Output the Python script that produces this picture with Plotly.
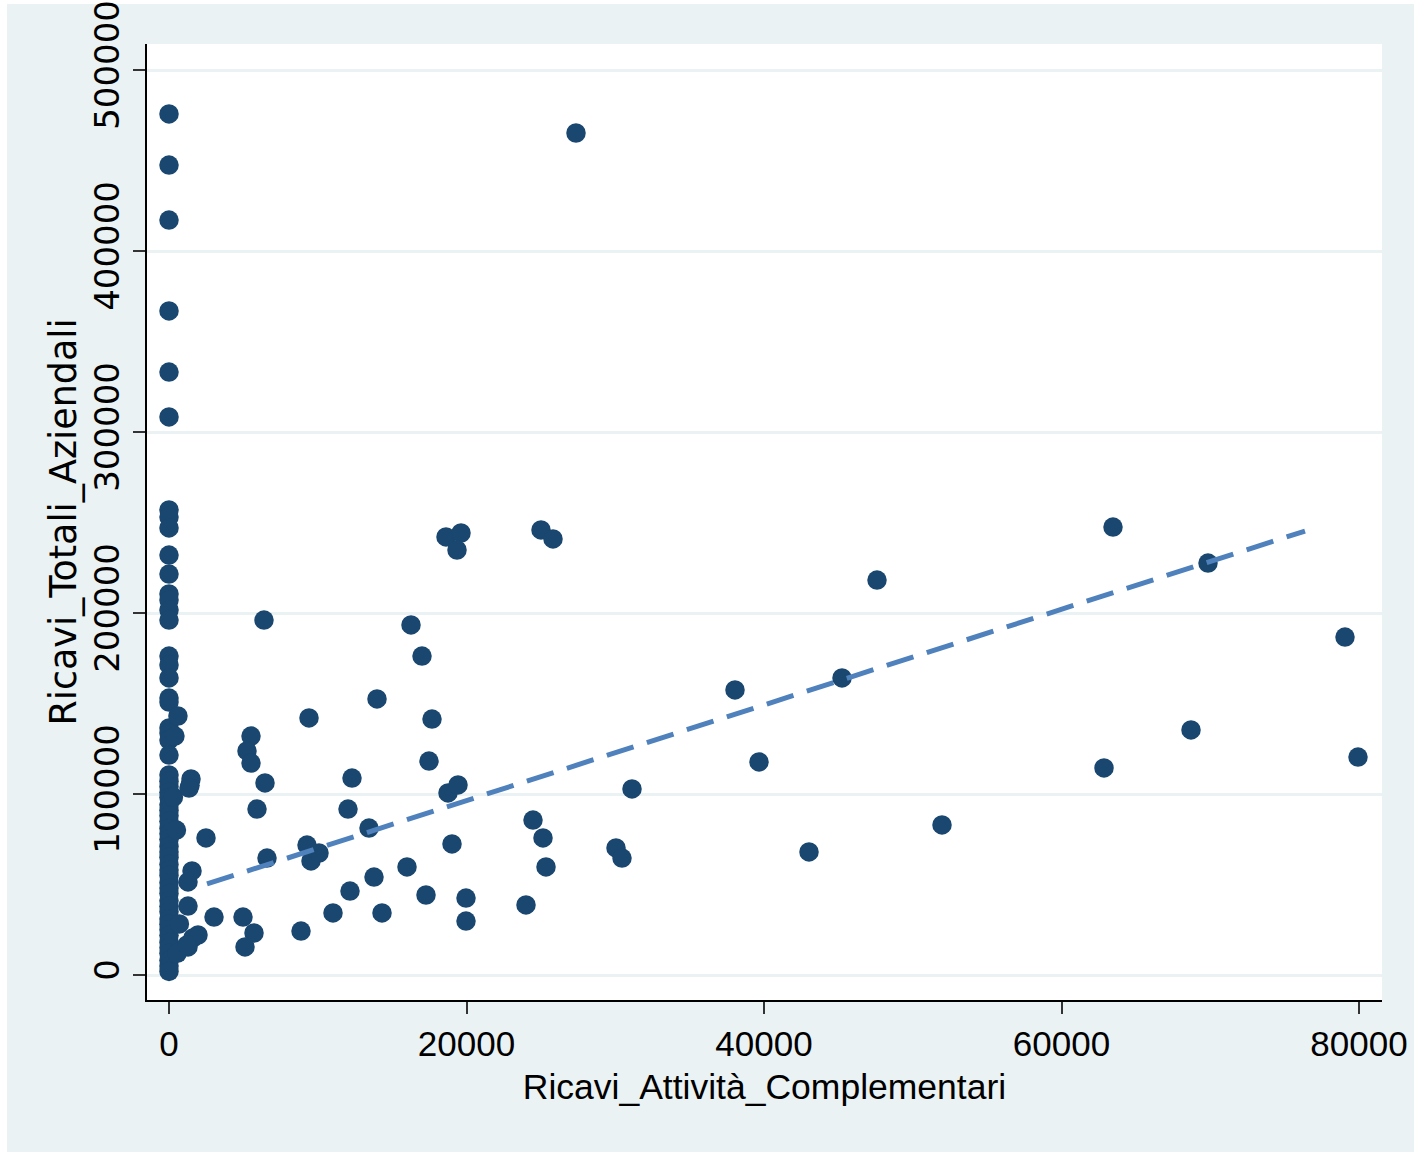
import plotly.graph_objects as go

# Scatter data: Ricavi_Attività_Complementari (x) vs Ricavi_Totali_Aziendali (y)
zero_col_y = [475700, 447500, 417100, 366900, 333100, 308300, 256900, 253000, 247000,
              232000, 221500, 210500, 207200, 201700, 196100, 176200, 171300, 164100,
              153000, 150800, 136500, 133700, 129800, 121500, 110500,
              107000, 104000, 101000, 98000, 94000, 91000, 88000, 85000, 81000, 78000,
              75000, 71000, 68000, 65000, 61000, 58000, 55000, 51000, 48000, 45000,
              41000, 38000, 35000, 31000, 28000, 25000, 22000, 18000, 15000, 12000,
              8000, 5000, 2000]
zero_col_x = [0] * len(zero_col_y)

other_x = [400, 600, 300, 500, 700, 1950, 1600, 1277, 550, 1412,
           27361, 6387, 5513, 5244, 5513, 6454, 5916, 6588, 1479, 1345,
           2487, 1546, 1277, 1277, 3025, 4975, 5714, 5109, 1210, 8874,
           9412, 9277, 9546, 10084, 11025, 12034, 12303, 12168, 13445, 13782,
           13983, 14319, 16000, 16269, 17008, 17277, 17479, 17681, 18622, 19630,
           19361, 18756, 19429, 19025, 19966, 19966, 24000, 24471, 25008, 25815,
           25143, 25345, 30050, 30454, 31126, 38050, 39664, 43025, 45244, 47597,
           51966, 62857, 63462, 68706, 69849, 79059, 79933]
other_y = [132000, 143100, 98300, 80100, 28200, 22100, 20400, 15500, 12000, 104900,
           465200, 196100, 132000, 123800, 117100, 106100, 91700, 64600, 108300, 103300,
           75700, 57500, 51400, 38100, 32000, 32000, 23200, 15500, 16600, 24300,
           142000, 71800, 63000, 67400, 34300, 91700, 108800, 46400, 81200, 54100,
           152500, 34300, 59700, 193400, 176200, 44200, 118200, 141400, 242000, 244200,
           234800, 100600, 105000, 72400, 42500, 29800, 38700, 85600, 245900, 240900,
           75700, 59700, 70200, 64600, 102800, 157500, 117700, 68000, 164100, 218200,
           82900, 114400, 247500, 135400, 227600, 186700, 120400]

# Fitted line (endpoints)
fit_x = [2555, 76370]
fit_y = [50300, 245300]

x_ticks = [0, 20000, 40000, 60000, 80000]
y_ticks = [0, 100000, 200000, 300000, 400000, 500000]

BG = "#EAF2F3"
FONT = "Liberation Sans"
YFONT = "DejaVu Sans"

fig = go.Figure()
fig.add_trace(go.Scatter(
    x=zero_col_x + other_x, y=zero_col_y + other_y, mode="markers",
    marker=dict(size=19.5, color="#1A476F", line=dict(width=0)),
    showlegend=False,
))
fig.add_trace(go.Scatter(
    x=fit_x, y=fit_y, mode="lines",
    line=dict(color="#4F81BD", width=5, dash="28px,14px"),
    showlegend=False,
))

fig.update_layout(
    width=1414, height=1152,
    margin=dict(l=147, r=32, t=44, b=152, autoexpand=False),
    paper_bgcolor=BG, plot_bgcolor="white",
    font=dict(family=FONT, size=34, color="black"),
    xaxis=dict(
        range=[-1479, 81546], tickvals=x_ticks, ticktext=[str(v) for v in x_ticks],
        automargin=False,
        showgrid=False, zeroline=False, showline=True, linecolor="black", linewidth=2,
        ticks="outside", ticklen=12, tickwidth=1.5, tickcolor="#333333",
        tickfont=dict(family=FONT, size=35),
        title=dict(text="Ricavi_Attività_Complementari", font=dict(family=FONT, size=35.5), standoff=12),
    ),
    yaxis=dict(
        range=[-13812, 514365], tickvals=y_ticks, ticktext=[str(v) for v in y_ticks],
        tickangle=-90, automargin=False,
        showgrid=True, gridcolor=BG, gridwidth=3, zeroline=False,
        showline=True, linecolor="black", linewidth=2,
        ticks="outside", ticklen=12, tickwidth=1.5, tickcolor="#333333",
        tickfont=dict(family=YFONT, size=34),
        title=dict(text="Ricavi_Totali_Aziendali", font=dict(family=YFONT, size=36.5), standoff=0),
    ),
    shapes=[
        dict(type="rect", xref="paper", yref="paper", x0=-0.125, x1=-0.1134, y0=-0.2, y1=1.06,
             fillcolor="white", line=dict(width=0), layer="below"),
        dict(type="rect", xref="paper", yref="paper", x0=-0.125, x1=1.05, y0=1.0418, y1=1.06,
             fillcolor="white", line=dict(width=0), layer="below"),
    ],
)

fig.write_html(
    "out.html",
    config={"displayModeBar": False},
    post_script="document.body.style.margin='0px';document.body.style.overflow='hidden';",
)
